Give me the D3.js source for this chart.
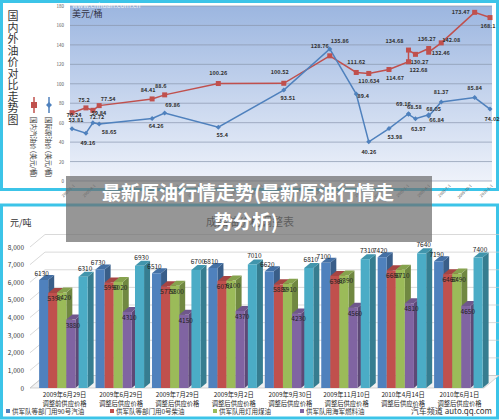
<!DOCTYPE html>
<html><head><meta charset="utf-8">
<script src="https://cdn.jsdelivr.net/npm/d3@7/dist/d3.min.js"></script>
<style>body{margin:0;background:#fff}svg{display:block}text{font-family:"Noto Sans CJK SC","DejaVu Sans",sans-serif}</style>
</head><body><svg id="c" width="500" height="420"></svg>
<script>
// ---- top chart data (t = months since first observation) ----
const lineT = [0, 2, 3, 3.9, 11.5, 13.3, 21, 30.4, 37, 40.8, 42.6, 45.5, 48.3, 48.3, 49.3, 51.2, 51.2, 53, 57.8, 60];
const domesticPrice = [70.24, 75.2, 72.72, 77.54, 84.41, 88.6, 100.26, 100.52, 128.76, 111.62, 110.634, 114.67, 122.68, 134.68, 130.27, 136.27, 132.46, 142.08, 173.47, 168.1];
const intlPrice = [53.81, 49.16, 59.84, 58.65, 64.26, 69.86, 55.4, 93.51, 135.86, 89.4, 40.26, 53.98, 69.16, 68.58, 63.97, 68.05, 66.84, 81.37, 85.84, 74.02];
const domLabels = ["70.24","75.2","72.72","77.54","84.41","88.6","100.26","100.52","128.76","111.62","110.634","114.67","122.68","134.68","130.27","136.27","132.46","142.08","173.47","168.1"];
const intlLabels = ["53.81","49.16","59.84","58.65","64.26","69.86","55.4","93.51","135.86","89.4","40.26","53.98","69.16","68.58","63.97","68.05","66.84","81.37","85.84","74.02"];
const topTickLabels = ["2005-1-1","2005-4-1","2005-7-1","2005-10-1","2006-1-1","2006-4-1","2006-7-1","2006-10-1","2007-1-1","2007-4-1","2007-7-1","2007-10-1","2008-1-1","2008-4-1","2008-7-1","2008-10-1","2009-1-1","2009-4-1","2009-7-1","2009-10-1","2010-1-1"];
const topYTicks = [0,20,40,60,80,100,120,140,160,180];

// ---- bottom chart data ----
const groups = [["2009年6月29日","调整前供应价格"],["2009年6月29日","调整后供应价格"],["2009年7月29日","调整后供应价格"],["2009年9月2日","调整后供应价格"],["2009年9月30日","调整后供应价格"],["2009年11月10日","调整后供应价格"],["2010年4月14日","调整后供应价格"],["2010年6月1日","调整后供应价格"]];
const gasoline90 = [6130, 6730, 6510, 6810, 6620, 7100, 7420, 7190];
const diesel0 = [5390, 5990, 5770, 6070, 5880, 6360, 6680, 6460];
const kerosene = [5420, 6020, 5800, 6100, 5910, 6390, 6710, 6490];
const navyFuel = [3880, 4310, 4150, 4370, 4230, 4560, 4810, 4650];
const series5 = [6310, 6930, 6700, 7010, 6810, 7310, 7640, 7400];
const seriesNames = ["供军队等部门用90号汽油","供军队等部门用0号柴油","供军队用灯用煤油","供军队用海军燃料油"];
const barYTicks = [0,1000,2000,3000,4000,5000,6000,7000,8000];

const svg = d3.select("#c");
const defs = svg.append("defs");
const gr = defs.append("linearGradient").attr("id","bg").attr("x1",0).attr("y1",0).attr("x2",0).attr("y2",1);
gr.append("stop").attr("offset","0%").attr("stop-color","#9cb6e0");
gr.append("stop").attr("offset","100%").attr("stop-color","#eef2fa");

// ===== TOP PANEL =====
svg.append("rect").attr("x",1.5).attr("y",1.5).attr("width",496).attr("height",188).attr("fill","#fff").attr("stroke","#3cc4e8").attr("stroke-width",3);
const x1 = d3.scaleLinear().domain([0,60]).range([72,490]);
const y1 = d3.scaleLinear().domain([0,180]).range([181,6]);
svg.append("rect").attr("x",70).attr("y",6).attr("width",422).attr("height",175).attr("fill","url(#bg)");
svg.append("g").selectAll("line").data(topYTicks).join("line")
  .attr("x1",70).attr("x2",492).attr("y1",d=>y1(d)).attr("y2",d=>y1(d)).attr("stroke","#8a97ad").attr("stroke-width",0.7);
svg.append("g").attr("transform","translate(70,0)").call(d3.axisLeft(y1).tickValues(topYTicks).tickSize(0).tickPadding(6))
  .call(g=>g.select(".domain").remove()).selectAll("text").attr("font-size",4.5).attr("fill","#555");
svg.append("g").selectAll("text").data(topTickLabels).join("text")
  .attr("transform",(d,i)=>`translate(${x1(i*3)+3},${186}) rotate(-45)`).attr("text-anchor","end")
  .attr("font-size",4).attr("fill","#555").text(d=>d);
svg.append("text").attr("x",72).attr("y",17).attr("font-size",9).attr("fill","#334").text("美元/桶");
svg.append("text").attr("x",72).attr("y",8).attr("font-size",7).attr("fill","#fff").attr("opacity",0.8).text("www.cnhuan.com.cn");

const line = (arr)=>d3.line().x((d,i)=>x1(lineT[i])).y(d=>y1(d))(arr);
svg.append("path").attr("d",line(domesticPrice)).attr("fill","none").attr("stroke","#c0504d").attr("stroke-width",1.5);
svg.append("path").attr("d",line(intlPrice)).attr("fill","none").attr("stroke","#4f81bd").attr("stroke-width",1.5);
svg.append("g").selectAll("rect").data(domesticPrice).join("rect")
  .attr("x",(d,i)=>x1(lineT[i])-2.5).attr("y",d=>y1(d)-2.5).attr("width",5).attr("height",5).attr("fill","#c0504d");
svg.append("g").selectAll("path").data(intlPrice).join("path")
  .attr("d",(d,i)=>`M${x1(lineT[i])},${y1(d)-2.5}l2.5,2.5l-2.5,2.5l-2.5,-2.5z`).attr("fill","#4f81bd");
const domOff = [[2,4],[-2,-6],[4,9],[9,-5],[-4,-7],[-4,-7],[0,-9],[-4,-9],[-10,-8],[0,-8],[0,10],[6,10],[10,10],[-14,-7],[4,10],[-2,-8],[12,3],[10,-1],[-14,2],[-2,10]];
const intOff = [[4,-7],[2,12],[6,-8],[10,10],[4,9],[8,-6],[4,10],[4,10],[10,-6],[7,4],[0,12],[6,10],[-5,-8],[6,-5],[3,12],[5,-4],[8,6],[0,-8],[0,-8],[2,12]];
const lblStyle = s=>s.attr("font-size",5.5).attr("font-weight","bold").attr("fill","#333").attr("text-anchor","middle");
svg.append("g").selectAll("text").data(domesticPrice).join("text")
  .attr("x",(d,i)=>x1(lineT[i])+domOff[i][0]).attr("y",(d,i)=>y1(d)+domOff[i][1]).text((d,i)=>domLabels[i]).call(lblStyle);
svg.append("g").selectAll("text").data(intlPrice).join("text")
  .attr("x",(d,i)=>x1(lineT[i])+intOff[i][0]).attr("y",(d,i)=>y1(d)+intOff[i][1]).text((d,i)=>intlLabels[i]).call(lblStyle);
// vertical title
svg.append("g").selectAll("text").data("国内外油价对比走势图".split("")).join("text")
  .attr("x",13).attr("y",(d,i)=>20+i*11.5).attr("text-anchor","middle").attr("font-size",11).attr("fill","#333").text(d=>d);
// vertical legend
[["#c0504d","国内汽油价 (美元/桶)",34],["#4f81bd","国际原油价 (美元/桶)",49]].forEach(([c,t,x],k)=>{
  svg.append("line").attr("x1",x).attr("x2",x).attr("y1",97).attr("y2",113).attr("stroke",c).attr("stroke-width",1.5);
  if(k===0) svg.append("rect").attr("x",x-3).attr("y",102).attr("width",6).attr("height",6).attr("fill",c);
  else svg.append("path").attr("d",`M${x},${102}l3,3l-3,3l-3,-3z`).attr("fill",c);
  svg.append("text").attr("transform",`translate(${x-3},117) rotate(90)`).attr("font-size",6.5).attr("fill","#333").text(t);
});

// ===== BOTTOM PANEL =====
svg.append("rect").attr("x",1.5).attr("y",205).attr("width",496).attr("height",213).attr("fill","#fff").attr("stroke","#3cc4e8").attr("stroke-width",3);
svg.append("text").attr("x",10).attr("y",226).attr("font-size",9).attr("fill","#333").text("元/吨");
svg.append("text").attr("x",250).attr("y",226).attr("text-anchor","middle").attr("font-size",11).attr("fill","#333").text("成品油价格调整表");
const y2 = d3.scaleLinear().domain([0,8000]).range([388,247]);
const x2 = d3.scaleBand().domain(d3.range(groups.length)).range([38,486]).paddingInner(0.1).paddingOuter(0.02);
const dx=6, dy=5;
// floor and back grid
svg.append("path").attr("d",`M30,${y2(0)}L484,${y2(0)}L${484+dx*2.5},${y2(0)-dy*2.5}L${30+dx*2.5},${y2(0)-dy*2.5}Z`).attr("fill","#f2f2f2").attr("stroke","#bbb").attr("stroke-width",0.6);
svg.append("g").selectAll("line").data(barYTicks).join("line")
  .attr("x1",30+dx*2.5).attr("x2",484+dx*2.5).attr("y1",d=>y2(d)-dy*2.5).attr("y2",d=>y2(d)-dy*2.5).attr("stroke","#c8c8c8").attr("stroke-width",0.7);
svg.append("g").selectAll("line.s").data(barYTicks).join("line")
  .attr("x1",30).attr("x2",30+dx*2.5).attr("y1",d=>y2(d)).attr("y2",d=>y2(d)-dy*2.5).attr("stroke","#c8c8c8").attr("stroke-width",0.7);
svg.append("g").attr("transform","translate(30,0)").call(d3.axisLeft(y2).tickValues(barYTicks).tickSize(0).tickPadding(6))
  .call(g=>g.select(".domain").remove()).selectAll("text").attr("font-size",6.5).attr("fill","#333");
const allSeries = [gasoline90, diesel0, kerosene, navyFuel, series5];
const colors = ["#4f81bd","#c0504d","#9bbb59","#8064a2","#4bacc6"];
const bw = x2.bandwidth()/5.6;
const gBars = svg.append("g");
groups.forEach((gname,gi)=>{
  allSeries.forEach((s,si)=>{
    const v=s[gi], x=x2(gi)+si*bw+(si===4?bw*0.35:0), y=y2(v), h=y2(0)-y;
    const c=d3.color(colors[si]);
    gBars.append("path").attr("d",`M${x+bw},${y}l${dx},${-dy}v${h}l${-dx},${dy}z`).attr("fill",c.darker(0.9));
    gBars.append("path").attr("d",`M${x},${y}l${dx},${-dy}h${bw}l${-dx},${dy}z`).attr("fill",c.darker(0.4));
    gBars.append("rect").attr("x",x).attr("y",y).attr("width",bw).attr("height",h).attr("fill",c);
  });
  allSeries.forEach((s,si)=>{
    const v=s[gi], x=x2(gi)+si*bw+(si===4?bw*0.35:0);
    gBars.append("text").attr("x",x+bw/2+(si===0?-2:2)).attr("y",y2(v)+(si===0?-4:si===4?-6:8)).attr("text-anchor","middle")
      .attr("font-size",6.5).attr("fill","#222").text(v);
  });
  const cx = x2(gi)+x2.bandwidth()/2;
  gname.forEach((t,k)=>svg.append("text").attr("x",cx).attr("y",397+k*8.5).attr("text-anchor","middle").attr("font-size",6.3).attr("fill","#222").text(t));
});
// legend
const legX=[6,110,213,300];
seriesNames.forEach((n,i)=>{
  svg.append("rect").attr("x",legX[i]).attr("y",409).attr("width",4).attr("height",4).attr("fill",colors[i]);
  svg.append("text").attr("x",legX[i]+6).attr("y",414).attr("font-size",6.5).attr("fill","#333").text(n);
});
svg.append("text").attr("x",492).attr("y",414).attr("text-anchor","end").attr("font-size",8).attr("fill","#333").text("汽车频道 auto.qq.com");

// ===== OVERLAY =====
svg.append("rect").attr("x",66).attr("y",176).attr("width",366).attr("height",66).attr("fill","#6e6e6e").attr("opacity",0.72);
svg.append("text").attr("x",248).attr("y",200).attr("text-anchor","middle").attr("font-size",19).attr("font-weight","bold").attr("fill","#fff").text("最新原油行情走势(最新原油行情走");
svg.append("text").attr("x",246).attr("y",229).attr("text-anchor","middle").attr("font-size",19).attr("font-weight","bold").attr("fill","#fff").text("势分析)");
</script></body></html>
